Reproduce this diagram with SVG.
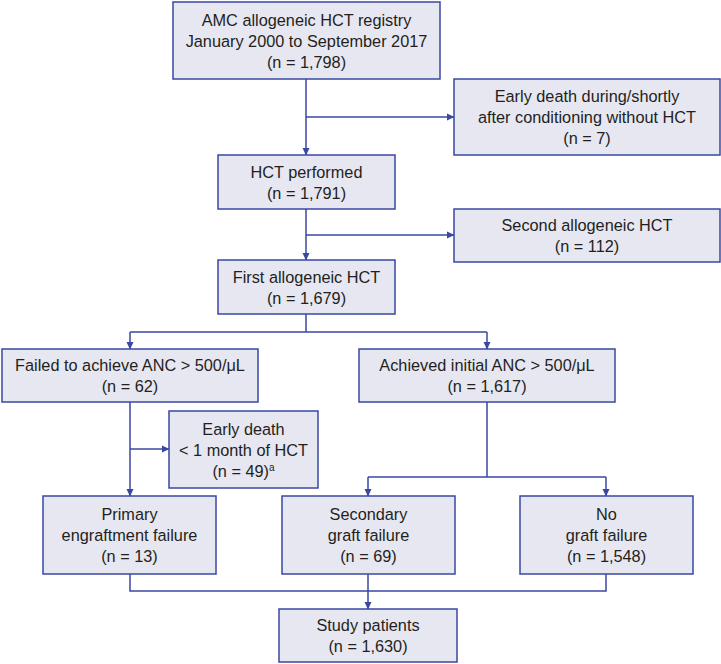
<svg xmlns="http://www.w3.org/2000/svg" width="721" height="664" viewBox="0 0 721 664">
<defs>
<style>
.box{fill:#e7e7f2;stroke:#3a48a2;stroke-width:1.5}
.ln{fill:none;stroke:#3a48a2;stroke-width:1.5}
.arr{marker-end:url(#ah)}
text{font-family:"Liberation Sans",Arial,sans-serif;font-size:16.3px;fill:#231f20;text-anchor:middle}
.sup{font-size:10px}
</style>
<marker id="ah" markerWidth="8" markerHeight="8" refX="7" refY="4" orient="auto" markerUnits="userSpaceOnUse">
<path d="M0,0.5 L7.5,4 L0,7.5 Z" fill="#3a48a2"/>
</marker>
</defs>
<rect width="721" height="664" fill="#ffffff"/>
<g id="connectors">
<path class="ln arr" d="M306,79 V155"/>
<path class="ln arr" d="M306,117 H454"/>
<path class="ln arr" d="M306,209 V260"/>
<path class="ln arr" d="M306,235 H454"/>
<path class="ln" d="M306,314 V332 M130,332 H487"/>
<path class="ln arr" d="M130,332 V349"/>
<path class="ln arr" d="M487,332 V349"/>
<path class="ln arr" d="M130,402 V496"/>
<path class="ln arr" d="M130,449 H169"/>
<path class="ln" d="M487,402 V477 M368,477 H606"/>
<path class="ln arr" d="M368,477 V496"/>
<path class="ln arr" d="M606,477 V496"/>
<path class="ln" d="M130,574 V591 H606 V574"/>
<path class="ln arr" d="M368,574 V609"/>
</g>
<g id="registry">
<rect class="box" x="173" y="2" width="267" height="77"/>
<text x="306.5" y="25.5">AMC allogeneic HCT registry</text>
<text x="306.5" y="46.5">January 2000 to September 2017</text>
<text x="306.5" y="67.5">(n = 1,798)</text>
</g>
<g id="early-death-conditioning">
<rect class="box" x="454" y="79" width="266" height="76"/>
<text x="587" y="102">Early death during/shortly</text>
<text x="587" y="123">after conditioning without HCT</text>
<text x="587" y="144">(n = 7)</text>
</g>
<g id="hct-performed">
<rect class="box" x="218" y="155" width="177" height="54"/>
<text x="306.5" y="177.5">HCT performed</text>
<text x="306.5" y="198.5">(n = 1,791)</text>
</g>
<g id="second-hct">
<rect class="box" x="454" y="209" width="266" height="53"/>
<text x="587" y="231">Second allogeneic HCT</text>
<text x="587" y="252">(n = 112)</text>
</g>
<g id="first-hct">
<rect class="box" x="218" y="260" width="177" height="54"/>
<text x="306.5" y="282.5">First allogeneic HCT</text>
<text x="306.5" y="303.5">(n = 1,679)</text>
</g>
<g id="failed-anc">
<rect class="box" x="2" y="349" width="256" height="53"/>
<text x="130" y="371">Failed to achieve ANC &gt; 500/μL</text>
<text x="130" y="392">(n = 62)</text>
</g>
<g id="achieved-anc">
<rect class="box" x="359" y="349" width="256" height="53"/>
<text x="487" y="371">Achieved initial ANC &gt; 500/μL</text>
<text x="487" y="392">(n = 1,617)</text>
</g>
<g id="early-death-month">
<rect class="box" x="169" y="411" width="149" height="77"/>
<text x="243.5" y="434.5">Early death</text>
<text x="243.5" y="455.5">&lt; 1 month of HCT</text>
<text x="243.5" y="476.5">(n = 49)<tspan class="sup" dy="-6">a</tspan></text>
</g>
<g id="primary-failure">
<rect class="box" x="43" y="496" width="173" height="78"/>
<text x="129.5" y="520">Primary</text>
<text x="129.5" y="541">engraftment failure</text>
<text x="129.5" y="562">(n = 13)</text>
</g>
<g id="secondary-failure">
<rect class="box" x="282" y="496" width="173" height="78"/>
<text x="368.5" y="520">Secondary</text>
<text x="368.5" y="541">graft failure</text>
<text x="368.5" y="562">(n = 69)</text>
</g>
<g id="no-failure">
<rect class="box" x="520" y="496" width="173" height="78"/>
<text x="606.5" y="520">No</text>
<text x="606.5" y="541">graft failure</text>
<text x="606.5" y="562">(n = 1,548)</text>
</g>
<g id="study-patients">
<rect class="box" x="279" y="609" width="178" height="53"/>
<text x="368" y="631">Study patients</text>
<text x="368" y="652">(n = 1,630)</text>
</g>
</svg>
